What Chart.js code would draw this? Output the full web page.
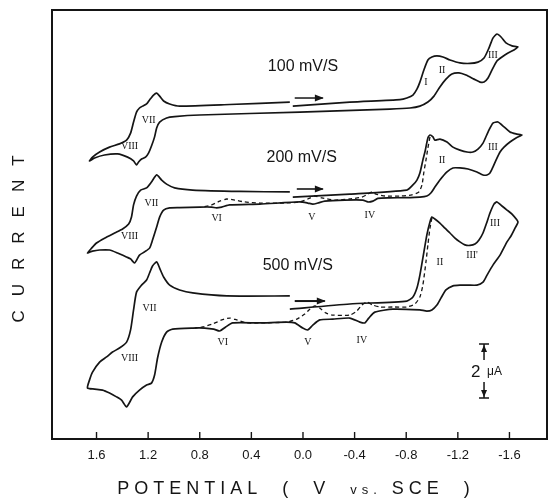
<!DOCTYPE html>
<html>
<head>
<meta charset="utf-8">
<script src="https://cdn.jsdelivr.net/npm/chart.js@4.4.1/dist/chart.umd.min.js"></script>
<style>
  html, body { margin: 0; padding: 0; background: #fff; }
  #wrap { width: 548px; height: 500px; }
</style>
</head>
<body>
<div id="wrap"><canvas id="cv" width="548" height="500"></canvas></div>
<script>
// potential (V vs SCE), current (uA, arbitrary zero) pairs, in scan order
const scan100 = [
  [0.079,12.33],[-0.363,12.48],[-0.751,12.57],[-0.805,12.63],[-0.852,12.74],[-0.883,12.96],
  [-0.906,13.22],[-0.937,13.67],[-0.968,14.04],[-0.999,14.15],[-1.038,14.19],[-1.085,14.15],
  [-1.139,14.04],[-1.216,13.93],[-1.294,13.91],[-1.356,13.96],[-1.403,14.11],[-1.441,14.48],
  [-1.472,14.85],[-1.503,15.00],[-1.535,14.89],[-1.573,14.67],[-1.620,14.56],[-1.666,14.52],
  [-1.635,14.41],[-1.589,14.30],[-1.542,14.15],[-1.503,14.00],[-1.465,13.67],[-1.434,13.37],
  [-1.403,13.22],[-1.372,13.22],[-1.325,13.33],[-1.263,13.48],[-1.209,13.56],[-1.154,13.52],
  [-1.108,13.33],[-1.061,13.04],[-1.015,12.70],[-0.968,12.48],[-0.906,12.33],[-0.829,12.26],
  [-0.673,12.22],[0.025,12.11],[0.801,12.00],[0.995,11.94],[1.057,11.89],[1.111,11.74],
  [1.134,11.52],[1.150,11.19],[1.174,10.85],[1.197,10.59],[1.220,10.44],[1.251,10.37],
  [1.274,10.26],[1.290,10.15],[1.313,10.30],[1.359,10.44],[1.437,10.56],[1.538,10.52],
  [1.615,10.41],[1.654,10.30],[1.631,10.44],[1.576,10.63],[1.499,10.81],[1.422,10.93],
  [1.367,11.07],[1.336,11.33],[1.313,11.74],[1.290,12.11],[1.267,12.26],[1.243,12.33],
  [1.212,12.41],[1.189,12.56],[1.158,12.74],[1.134,12.81],[1.111,12.70],[1.080,12.52],
  [1.033,12.41],[0.956,12.33],[0.568,12.39],[0.102,12.48]
];

const scan200 = [
  [0.079,8.96],[-0.363,9.07],[-0.805,9.22],[-0.852,9.41],[-0.883,9.59],[-0.906,9.85],
  [-0.929,10.33],[-0.945,10.63],[-0.968,11.15],[-0.984,11.26],[-1.007,11.19],[-1.022,11.07],
  [-1.061,11.11],[-1.116,11.00],[-1.162,10.81],[-1.216,10.70],[-1.271,10.63],[-1.317,10.63],
  [-1.356,10.74],[-1.395,10.96],[-1.434,11.37],[-1.472,11.70],[-1.511,11.74],[-1.558,11.56],
  [-1.604,11.37],[-1.651,11.30],[-1.697,11.26],
  [-1.651,11.15],[-1.604,11.00],[-1.558,10.81],[-1.527,10.63],[-1.496,10.33],[-1.472,10.07],
  [-1.449,9.85],[-1.426,9.78],[-1.395,9.78],[-1.348,9.89],[-1.279,10.00],[-1.216,10.04],
  [-1.162,10.04],[-1.116,9.89],[-1.061,9.59],[-1.022,9.33],[-0.991,9.11],[-0.960,9.00],
  [-0.906,8.96],[-0.790,8.94],[-0.673,8.93],[-0.580,8.91],[-0.542,8.81],[-0.503,8.78],
  [-0.464,8.85],[-0.324,8.85],[-0.169,8.81],[-0.115,8.74],[-0.076,8.70],[-0.037,8.74],
  [0.025,8.78],[0.335,8.70],[0.568,8.67],[0.630,8.59],[0.669,8.56],[0.708,8.59],
  [0.801,8.59],[0.956,8.57],[1.033,8.56],[1.080,8.48],[1.111,8.22],[1.134,7.85],
  [1.166,7.37],[1.189,7.07],[1.228,6.93],[1.267,6.81],[1.305,6.52],[1.336,6.67],
  [1.367,6.74],[1.437,6.89],[1.499,7.00],[1.576,7.00],[1.631,6.96],[1.670,6.89],
  [1.638,7.07],[1.600,7.26],[1.538,7.44],[1.460,7.63],[1.398,7.78],[1.351,7.96],
  [1.329,8.22],[1.313,8.67],[1.290,9.00],[1.258,9.22],[1.212,9.30],[1.174,9.52],
  [1.134,9.78],[1.095,9.59],[1.057,9.44],[0.995,9.30],[0.855,9.22],[0.490,9.17],[0.102,9.15]
];

// reverse sweep switched just past peak II
const scan200short = [
  [-0.984,11.19],[-0.968,10.78],[-0.953,10.33],[-0.937,9.89],[-0.922,9.41],[-0.898,9.15],
  [-0.844,9.04],[-0.751,9.00],[-0.635,9.00],[-0.565,9.07],[-0.534,9.15],[-0.503,9.07],
  [-0.456,8.96],[-0.363,8.89],[-0.247,8.85],[-0.146,8.93],[-0.092,9.00],[-0.037,8.89],
  [0.025,8.78],[0.141,8.74],[0.335,8.74],[0.452,8.78],[0.529,8.85],[0.591,8.89],
  [0.645,8.81],[0.708,8.67],[0.777,8.59]
];

const scan500 = [
  [0.102,4.81],[-0.363,5.00],[-0.805,5.11],[-0.852,5.26],[-0.883,5.59],[-0.906,6.07],
  [-0.929,6.70],[-0.960,7.56],[-0.984,8.04],[-0.999,8.22],[-1.022,8.15],[-1.061,8.00],
  [-1.100,7.81],[-1.139,7.63],[-1.178,7.44],[-1.216,7.30],[-1.255,7.19],[-1.294,7.17],
  [-1.333,7.22],[-1.364,7.37],[-1.395,7.63],[-1.426,8.04],[-1.449,8.37],[-1.480,8.70],
  [-1.503,8.78],[-1.542,8.63],[-1.581,8.48],[-1.620,8.33],[-1.666,8.04],
  [-1.643,7.81],[-1.612,7.52],[-1.581,7.30],[-1.527,6.81],[-1.472,6.44],[-1.426,6.07],
  [-1.395,5.81],[-1.348,5.70],[-1.279,5.70],[-1.216,5.70],[-1.162,5.67],[-1.108,5.52],
  [-1.069,5.22],[-1.038,4.96],[-0.999,4.78],[-0.960,4.74],[-0.906,4.78],[-0.697,4.81],
  [-0.557,4.70],[-0.510,4.48],[-0.479,4.30],[-0.441,4.33],[-0.363,4.48],[-0.231,4.44],
  [-0.130,4.41],[-0.076,4.22],[-0.037,4.04],[0.002,4.11],[0.064,4.30],[0.126,4.33],
  [0.335,4.30],[0.545,4.30],[0.599,4.15],[0.645,4.00],[0.692,4.07],[0.762,4.11],
  [0.855,4.11],[1.010,4.07],[1.057,3.96],[1.095,3.59],[1.127,3.00],[1.150,2.37],
  [1.174,2.07],[1.212,2.00],[1.267,1.81],[1.320,1.56],[1.367,1.19],[1.406,1.44],
  [1.445,1.56],[1.499,1.70],[1.553,1.81],[1.615,1.85],[1.670,1.89],
  [1.654,2.19],[1.631,2.48],[1.576,2.85],[1.522,3.04],[1.476,3.22],[1.422,3.37],
  [1.367,3.59],[1.336,4.04],[1.313,4.78],[1.290,5.44],[1.251,5.70],[1.212,5.89],
  [1.189,6.15],[1.166,6.41],[1.134,6.56],[1.111,6.33],[1.080,6.00],[1.033,5.70],
  [0.956,5.52],[0.855,5.41],[0.591,5.30],[0.102,5.30]
];

const scan500short = [
  [-0.999,8.19],[-0.984,7.81],[-0.968,7.19],[-0.953,6.56],[-0.929,5.70],[-0.906,5.26],
  [-0.867,5.00],[-0.805,4.89],[-0.697,4.89],[-0.596,4.89],[-0.542,4.96],[-0.495,5.07],
  [-0.456,4.96],[-0.417,4.74],[-0.363,4.59],[-0.231,4.59],[-0.177,4.67],[-0.130,4.85],
  [-0.092,4.93],[-0.053,4.81],[-0.014,4.63],[0.048,4.44],[0.126,4.33],[0.335,4.30],
  [0.436,4.30],[0.514,4.41],[0.568,4.48],[0.630,4.41],[0.700,4.26],[0.777,4.15],[0.839,4.11]
];

const potentialTicks = [1.6, 1.2, 0.8, 0.4, 0.0, -0.4, -0.8, -1.2, -1.6];

// sweep-rate captions: text, potential, current
const rateLabels = [
  ['100 mV/S', 0.00, 13.78],
  ['200 mV/S', 0.01, 10.44],
  ['500 mV/S', 0.04, 6.44]
];

// wave labels: text, potential, current
const peakLabels = [
  ['I', -0.953, 13.22], ['II', -1.077, 13.67], ['III', -1.472, 14.22],
  ['VII', 1.196, 11.81], ['VIII', 1.344, 10.85],
  ['VII', 1.174, 8.74], ['VIII', 1.344, 7.52], ['VI', 0.669, 8.19], ['V', -0.068, 8.22],
  ['IV', -0.518, 8.30], ['II', -1.077, 10.33], ['III', -1.472, 10.81],
  ['VII', 1.189, 4.85], ['VIII', 1.344, 3.00], ['VI', 0.622, 3.59], ['V', -0.037, 3.59],
  ['IV', -0.456, 3.67], ['II', -1.061, 6.56], ['III', -1.488, 8.00], ["III'", -1.310, 6.81]
];

// scan direction arrows: from potential, to potential, current, line width
const scanArrows = [
  [0.064, -0.154, 12.63, 1.5],
  [0.048, -0.154, 9.26, 1.6],
  [0.064, -0.169, 5.11, 2.0]
];

// 2 uA scale bar
const barPotential = -1.403;
const barLow = 1.52;
const barHigh = 3.52;

const toPts = arr => arr.map(([v, i]) => ({ x: v, y: i }));

function trace(data, dashed) {
  return {
    data: toPts(data),
    showLine: true,
    borderColor: '#151515',
    borderWidth: dashed ? 1.3 : 1.7,
    borderDash: dashed ? [4, 3] : [],
    pointRadius: 0,
    tension: 0.2,
    fill: false
  };
}

const overlay = {
  id: 'overlay',
  afterDraw(chart) {
    const { ctx, chartArea: a, scales: { x, y } } = chart;
    ctx.save();
    ctx.strokeStyle = '#151515';
    ctx.fillStyle = '#151515';

    // frame
    ctx.lineWidth = 2;
    ctx.strokeRect(a.left, a.top, a.right - a.left, a.bottom - a.top);

    // inward tick marks
    ctx.lineWidth = 1.4;
    potentialTicks.forEach(v => {
      const px = x.getPixelForValue(v);
      ctx.beginPath();
      ctx.moveTo(px, a.bottom);
      ctx.lineTo(px, a.bottom - 7);
      ctx.stroke();
    });

    // sweep-rate captions
    ctx.font = '16px "Liberation Sans"';
    ctx.textAlign = 'center';
    ctx.textBaseline = 'middle';
    rateLabels.forEach(([t, v, i]) => ctx.fillText(t, x.getPixelForValue(v), y.getPixelForValue(i)));

    // wave labels
    ctx.font = '10px "Liberation Serif"';
    peakLabels.forEach(([t, v, i]) => ctx.fillText(t, x.getPixelForValue(v), y.getPixelForValue(i)));

    // direction arrows
    scanArrows.forEach(([v1, v2, i, w]) => {
      const x1 = x.getPixelForValue(v1), x2 = x.getPixelForValue(v2), py = y.getPixelForValue(i);
      ctx.lineWidth = w;
      ctx.beginPath();
      ctx.moveTo(x1, py);
      ctx.lineTo(x2, py);
      ctx.stroke();
      ctx.beginPath();
      ctx.moveTo(x2 + 1, py);
      ctx.lineTo(x2 - 8, py - 3.5);
      ctx.lineTo(x2 - 8, py + 3.5);
      ctx.closePath();
      ctx.fill();
    });

    // scale bar
    const bx = x.getPixelForValue(barPotential);
    const yTop = y.getPixelForValue(barHigh), yBot = y.getPixelForValue(barLow);
    const yMid = (yTop + yBot) / 2;
    ctx.lineWidth = 1.5;
    ctx.beginPath();
    ctx.moveTo(bx - 5, yTop); ctx.lineTo(bx + 5, yTop);
    ctx.moveTo(bx, yTop); ctx.lineTo(bx, yMid - 11);
    ctx.moveTo(bx, yMid + 11); ctx.lineTo(bx, yBot);
    ctx.moveTo(bx - 5, yBot); ctx.lineTo(bx + 5, yBot);
    ctx.stroke();
    ctx.beginPath();
    ctx.moveTo(bx, yTop + 1); ctx.lineTo(bx - 3, yTop + 8); ctx.lineTo(bx + 3, yTop + 8); ctx.closePath();
    ctx.moveTo(bx, yBot - 1); ctx.lineTo(bx - 3, yBot - 8); ctx.lineTo(bx + 3, yBot - 8); ctx.closePath();
    ctx.fill();
    ctx.textAlign = 'left';
    ctx.font = '17px "Liberation Sans"';
    ctx.fillText('2', bx - 13, yMid + 1);
    ctx.font = '12px "Liberation Sans"';
    ctx.fillText('\u03bcA', bx + 3, yMid + 1);

    // axis titles
    const parts = [['POTENTIAL  (  V  ', 18], ['vs.', 13], [' SCE  )', 18]];
    ctx.letterSpacing = '5px';
    let total = 0;
    parts.forEach(([t, s]) => { ctx.font = s + 'px "Liberation Sans"'; total += ctx.measureText(t).width; });
    let cx = 296 - total / 2;
    ctx.textBaseline = 'alphabetic';
    parts.forEach(([t, s]) => {
      ctx.font = s + 'px "Liberation Sans"';
      ctx.fillText(t, cx, 494);
      cx += ctx.measureText(t).width;
    });

    ctx.translate(24, 239);
    ctx.rotate(-Math.PI / 2);
    ctx.letterSpacing = '14px';
    ctx.font = '17px "Liberation Sans"';
    ctx.textAlign = 'center';
    ctx.fillText('CURRENT', 7, 0);
    ctx.restore();
  }
};

new Chart(document.getElementById('cv').getContext('2d'), {
  type: 'scatter',
  data: {
    datasets: [
      trace(scan100, false),
      trace(scan200, false),
      trace(scan200short, true),
      trace(scan500, false),
      trace(scan500short, true)
    ]
  },
  options: {
    responsive: false,
    animation: false,
    devicePixelRatio: 1,
    layout: { padding: { left: 52, right: 1, top: 10, bottom: 0 } },
    scales: {
      x: {
        type: 'linear',
        reverse: true,
        min: -1.891,
        max: 1.945,
        grid: { display: false, drawTicks: false },
        border: { display: false },
        afterBuildTicks: s => { s.ticks = potentialTicks.map(v => ({ value: v })); },
        afterFit: s => { s.height = 61; },
        ticks: {
          color: '#151515',
          padding: 9,
          maxRotation: 0,
          autoSkip: false,
          font: { family: 'Liberation Sans', size: 13 },
          callback: v => v.toFixed(1)
        }
      },
      y: {
        display: false,
        min: 0,
        max: 15.89
      }
    },
    plugins: {
      legend: { display: false },
      tooltip: { enabled: false }
    }
  },
  plugins: [overlay]
});
</script>
</body>
</html>
